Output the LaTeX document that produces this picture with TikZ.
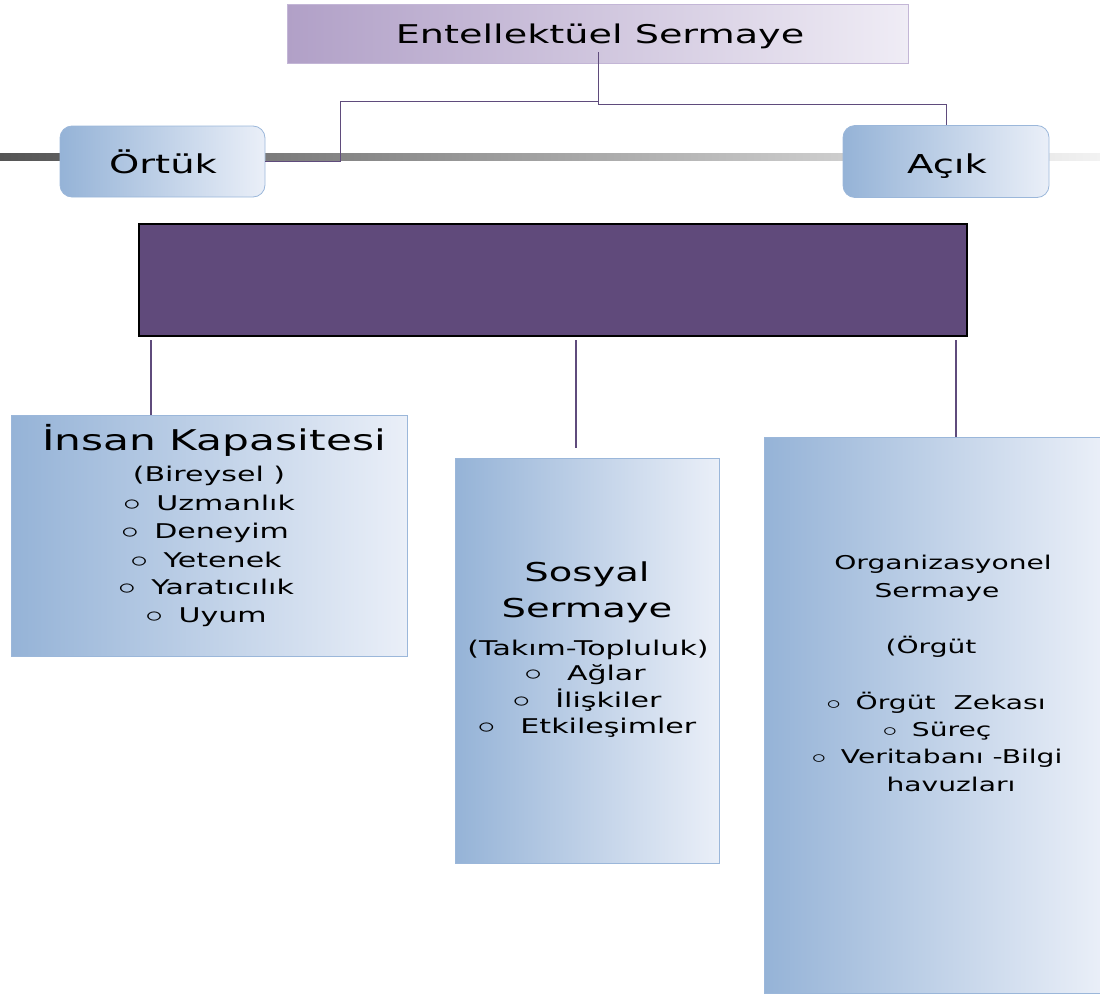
\documentclass[tikz,border=0pt]{standalone}
\usepackage{fontspec}
\usepackage{graphicx}
\setmainfont{DejaVu Sans}
\usetikzlibrary{calc}
\definecolor{pbox}{HTML}{604A7B}
\definecolor{pline}{HTML}{5F4B7C}
\definecolor{bleft}{HTML}{95B3D7}
\definecolor{bright}{HTML}{EAEFF8}
\definecolor{bborder}{HTML}{9BB7DA}
\definecolor{lleft}{HTML}{B1A0C7}
\definecolor{lright}{HTML}{EFECF5}
\definecolor{lborder}{HTML}{C3B6D6}
\definecolor{barleft}{HTML}{555555}
\definecolor{barright}{HTML}{F2F2F2}
\newcommand{\stretchx}[1]{\scalebox{1.48}[1]{#1}}
\newcommand{\bul}{\scalebox{1.15}{$\circ$}\hspace{0.2em}}
\begin{document}
\begin{tikzpicture}[x=1pt,y=-1pt,
  bluebox/.style={draw=bborder, line width=0.8pt, left color=bleft, right color=bright, inner sep=0pt},
  txt/.style={anchor=base, inner sep=0pt, text=black},
  conn/.style={draw=pline, line width=1pt},
  vline/.style={draw=pline, line width=2pt},
  ftitle/.style={font=\fontsize{25.8}{30}\selectfont},
  fbig/.style={font=\fontsize{26}{30}\selectfont},
  fhead/.style={font=\fontsize{28.6}{33}\selectfont},
  fbody/.style={font=\fontsize{20.3}{24}\selectfont},
  forg/.style={font=\fontsize{19}{23}\selectfont}]
\useasboundingbox (0,0) rectangle (1100,993);
% gray bar
\shade[left color=barleft, right color=barright] (0,153.5) rectangle (1100,160.5);
% top box
\node[draw=lborder, line width=0.8pt, left color=lleft, right color=lright, minimum width=621pt, minimum height=59pt, inner sep=0pt] (es) at (597.5,33.5) {};
% Örtük / Açık
\node[bluebox, rounded corners=12pt, minimum width=205pt, minimum height=71pt] (ortuk) at (162.5,161.5) {};
\node[bluebox, rounded corners=12pt, minimum width=206pt, minimum height=72pt] (acik) at (946,161.5) {};
% purple box
\node[draw=black, line width=2pt, fill=pbox, minimum width=828pt, minimum height=112pt, inner sep=0pt] (mid) at (553,280) {};
% lower boxes
\node[bluebox, minimum width=396pt, minimum height=241pt] (insan) at (209,535.5) {};
\node[bluebox, minimum width=264pt, minimum height=405pt] (sosyal) at (587,660.5) {};
\node[bluebox, minimum width=338pt, minimum height=556pt] (org) at (933,715) {};
% connectors top
\coordinate (esl) at (598,52);
\draw[conn] (esl) |- (946,104.5) -- (acik.north);
\draw[conn] (esl) |- (340,101) |- (ortuk.east);
% verticals
\coordinate (m1) at (151,340);
\coordinate (m2) at (576,340);
\coordinate (m3) at (956,340);
\coordinate (m2end) at (576,448);
\draw[vline] (m1) -- (m1 |- insan.north);
\draw[vline] (m2) -- (m2end);
\draw[vline] (m3) -- (m3 |- org.north);
% texts
\node[txt, ftitle] (tes) at (600,43) {\stretchx{Entellektüel Sermaye}};
\node[txt, fbig] (tor) at (163,173) {\stretchx{Örtük}};
\node[txt, fbig] (tac) at (947,173) {\stretchx{Açık}};
\node[txt, fhead] (ti0) at (214,450) {\stretchx{İnsan Kapasitesi}};
\node[txt, fbody] (ti1) at (209,481) {\stretchx{(Bireysel )}};
\node[txt, fbody] (ti2) at (209,510) {\stretchx{\bul{} Uzmanlık}};
\node[txt, fbody] (ti3) at (205,538) {\stretchx{\bul{} Deneyim}};
\node[txt, fbody] (ti4) at (206,567) {\stretchx{\bul{} Yetenek}};
\node[txt, fbody] (ti5) at (206,594) {\stretchx{\bul{} Yaratıcılık}};
\node[txt, fbody] (ti6) at (206,622) {\stretchx{\bul{} Uyum}};
\node[txt, fbig] (ts0) at (587,581) {\stretchx{Sosyal}};
\node[txt, fbig] (ts1) at (587,617) {\stretchx{Sermaye}};
\node[txt, fbody] (ts2) at (588,655) {\stretchx{(Takım-Topluluk)}};
\node[txt, fbody] (ts3) at (585,680) {\stretchx{\bul{}\ \ Ağlar}};
\node[txt, fbody] (ts4) at (587,707) {\stretchx{\bul{}\ \ İlişkiler}};
\node[txt, fbody] (ts5) at (587,733) {\stretchx{\bul{}\ \ Etkileşimler}};
\node[txt, forg] (to0) at (943,569) {\stretchx{Organizasyonel}};
\node[txt, forg] (to1) at (937,597) {\stretchx{Sermaye}};
\node[txt, forg] (to2) at (931,653) {\stretchx{(Örgüt}};
\node[txt, forg] (to3) at (936,709) {\stretchx{\bul{} Örgüt\ \ Zekası}};
\node[txt, forg] (to4) at (937,736) {\stretchx{\bul{} Süreç}};
\node[txt, forg] (to5) at (937,763) {\stretchx{\bul{} Veritabanı -Bilgi}};
\node[txt, forg] (to6) at (951,791) {\stretchx{havuzları}};
\end{tikzpicture}
\end{document}
